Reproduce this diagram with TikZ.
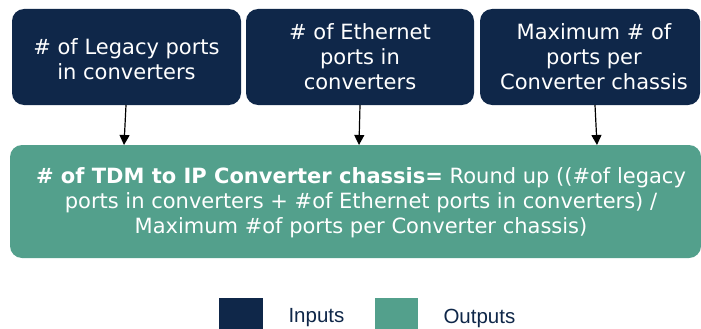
\documentclass[tikz,border=0pt]{standalone}
\usepackage{fontspec}
\setmainfont{DejaVu Sans}
\newfontfamily\legfont{Liberation Sans}
\usetikzlibrary{arrows.meta}
\definecolor{navy}{HTML}{0F2749}
\definecolor{teal}{HTML}{53A08C}
\begin{document}
\begin{tikzpicture}[x=1pt,y=-1pt,
  inbox/.style={fill=navy, draw=none, rounded corners=12pt},
  outbox/.style={fill=teal, draw=none, rounded corners=12pt},
  intext/.style={text=white, align=center, inner sep=0pt, font=\fontsize{21}{25}\selectfont},
  outtext/.style={text=white, align=center, inner sep=0pt, font=\fontsize{21}{25}\selectfont},
  legtext/.style={text=navy, font=\legfont\fontsize{20.5}{24}\selectfont, anchor=west},
  conn/.style={-{Triangle[length=10pt,width=10pt]}, line width=1.2pt, black}]
\useasboundingbox (0,0) rectangle (701,329);
% input boxes
\filldraw[inbox] (12,9) rectangle (241,105);
\filldraw[inbox] (246,9) rectangle (474,105);
\filldraw[inbox] (480,9) rectangle (700,105);
\node[intext] (in1) at (126.5,59) {\# of Legacy ports\\in converters};
\node[intext] (in2) at (360,57) {\# of Ethernet\\ports in\\converters};
\node[intext] (in3) at (594,57) {Maximum \# of\\ports per\\Converter chassis};
% output box
\filldraw[outbox] (10,145) rectangle (701,258);
\node[outtext] (out) at (361,203) {\textbf{\# of TDM to IP Converter chassis=} Round up ((\#of legacy\\ports in converters + \#of Ethernet ports in converters) /\\Maximum \#of ports per Converter chassis)};
\coordinate (a1s) at (126,105); \coordinate (a1e) at (124,145);
\coordinate (a2s) at (360,105); \coordinate (a2e) at (359,145);
\coordinate (a3s) at (595,105); \coordinate (a3e) at (597,145);
\draw[conn] (a1s) -- (a1e);
\draw[conn] (a2s) -- (a2e);
\draw[conn] (a3s) -- (a3e);
% legend
\fill[navy] (219,298) rectangle (263,329);
\node[legtext] (l1) at (285,318) {Inputs};
\fill[teal] (375,298) rectangle (418,329);
\node[legtext] (l2) at (440,318) {Outputs};
\end{tikzpicture}
\end{document}
